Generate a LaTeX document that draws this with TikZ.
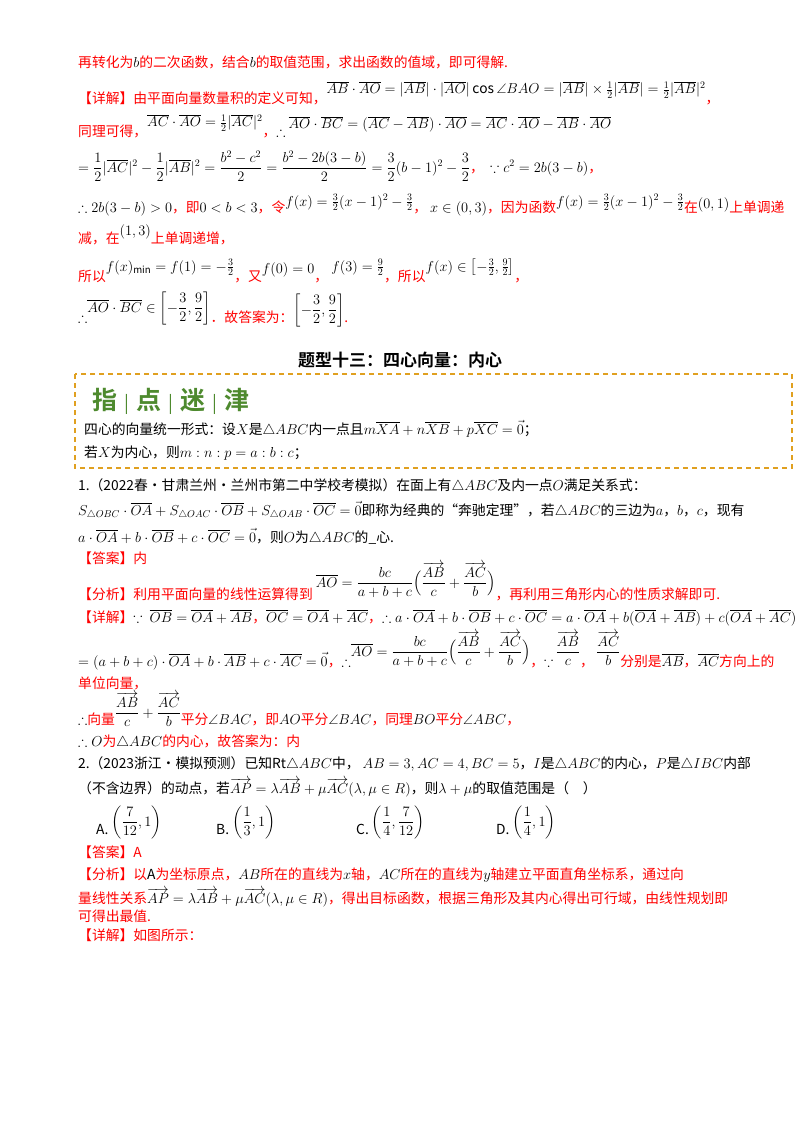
\documentclass[tikz,border=0pt]{standalone}
\usepackage{amsmath,amssymb}
\usepackage{fontspec}
\setmainfont{Noto Sans CJK SC}
\newfontfamily\cjkb{Noto Sans CJK SC Bold}
\definecolor{rd}{HTML}{FF0000}
\definecolor{gn}{HTML}{4E8A2E}
\definecolor{og}{HTML}{E0A020}
\newcommand\R[1]{\textcolor{rd}{#1}}
\newcommand\ol[1]{\overline{#1}}
\newcommand\va[1]{\overrightarrow{#1}}
\tikzset{ln/.style={anchor=base west,inner sep=0pt,font=\fontsize{13.8}{15}\selectfont}}
\begin{document}
\begin{tikzpicture}[x=1pt,y=-1pt]
\useasboundingbox[fill=white] (0,0) rectangle (800,1134);
\node[ln] (l1) at (78,68) {\R{再转化为}$b$\R{的二次函数，结合}$b$\R{的取值范围，求出函数的值域，即可得解.}};
\node[ln] (l2) at (78,104) {\R{【详解】由平面向量数量积的定义可知，}\raisebox{10pt}{$\ol{AB}\cdot\ol{AO}=|\ol{AB}|\cdot|\ol{AO}|\cos\angle BAO=|\ol{AB}|\times\frac12|\ol{AB}|=\frac12|\ol{AB}|^2$}\R{，}};
\node[ln] (l3) at (78,137) {\R{同理可得，}\raisebox{10pt}{$\ol{AC}\cdot\ol{AO}=\frac12|\ol{AC}|^2$}\R{，}$\therefore$ \raisebox{8pt}{$\ol{AO}\cdot\ol{BC}=(\ol{AC}-\ol{AB})\cdot\ol{AO}=\ol{AC}\cdot\ol{AO}-\ol{AB}\cdot\ol{AO}$}};
\node[ln] (l4) at (78,172) {$=\dfrac12|\ol{AC}|^2-\dfrac12|\ol{AB}|^2=\dfrac{b^2-c^2}{2}=\dfrac{b^2-2b(3-b)}{2}=\dfrac32(b-1)^2-\dfrac32$\R{，}\ \ $\because c^2=2b(3-b)$\R{，}};
\node[ln] (l5) at (78,212) {$\therefore 2b(3-b)>0$\R{，即}$0<b<3$\R{，令}\raisebox{6pt}{$f(x)=\frac32(x-1)^2-\frac32$}\R{，}\ $x\in(0,3)$\R{，因为函数}\raisebox{6pt}{$f(x)=\frac32(x-1)^2-\frac32$}\R{在}\raisebox{4pt}{$(0,1)$}\R{上单调递}};
\node[ln] (l6) at (78,243) {\R{减，在}\raisebox{8pt}{$(1,3)$}\R{上单调递增，}};
\node[ln] (l7) at (78,281) {\R{所以}\raisebox{10pt}{$f(x)_{\min}=f(1)=-\frac32$}\R{，又}\raisebox{8pt}{$f(0)=0$}\R{，}\ \raisebox{10pt}{$f(3)=\frac92$}\R{，所以}\raisebox{10pt}{$f(x)\in\left[-\frac32,\frac92\right]$}\R{，}};
\node[ln] (l8) at (78,322) {$\therefore$\raisebox{10pt}{$\ol{AO}\cdot\ol{BC}\in\left[-\dfrac32,\dfrac92\right]$}\R{．故答案为：}\raisebox{8pt}{$\left[-\dfrac32,\dfrac92\right]$}\R{.}};
\node[anchor=base,inner sep=0pt,font=\fontsize{17}{19}\selectfont\cjkb] (title) at (400,366) {题型十三：四心向量：内心};
\draw[og,line width=1.3pt,dash pattern=on 5pt off 4pt] (75,374) rectangle (792,468);
\node[ln,font=\fontsize{25}{28}\selectfont\cjkb,text=gn] (tip) at (92,409) {指\,{\normalfont\fontsize{18}{20}\selectfont\,|\,}\,点\,{\normalfont\fontsize{18}{20}\selectfont\,|\,}\,迷\,{\normalfont\fontsize{18}{20}\selectfont\,|\,}\,津};
\node[ln] (k1) at (84,434) {四心的向量统一形式：设$X$是$\triangle ABC$内一点且$m\ol{XA}+n\ol{XB}+p\ol{XC}=\vec0$；};
\node[ln] (k2) at (84,457) {若$X$为内心，则$m:n:p=a:b:c$；};
\node[ln] (q1) at (78,490) {1.（2022春·甘肃兰州·兰州市第二中学校考模拟）在面上有$\triangle ABC$及内一点$O$满足关系式：};
\node[ln] (q2) at (78,515) {$S_{\triangle OBC}\cdot\ol{OA}+S_{\triangle OAC}\cdot\ol{OB}+S_{\triangle OAB}\cdot\ol{OC}=\vec0$即称为经典的“奔驰定理”，若$\triangle ABC$的三边为$a$，$b$，$c$，现有};
\node[ln] (q3) at (78,542) {$a\cdot\ol{OA}+b\cdot\ol{OB}+c\cdot\ol{OC}=\vec0$，则$O$为$\triangle ABC$的\_心.};
\node[ln] (a1) at (78,563) {\R{【答案】内}};
\node[ln] (f1) at (78,599) {\R{【分析】利用平面向量的线性运算得到}\ \raisebox{12pt}{$\ol{AO}=\dfrac{bc}{a+b+c}\Big(\dfrac{\va{AB}}{c}+\dfrac{\va{AC}}{b}\Big)$}\R{，再利用三角形内心的性质求解即可.}};
\node[ln] (d1) at (78,622) {\R{【详解】}$\because\ \ol{OB}=\ol{OA}+\ol{AB}$\R{，}$\ol{OC}=\ol{OA}+\ol{AC}$\R{，}$\therefore a\cdot\ol{OA}+b\cdot\ol{OB}+c\cdot\ol{OC}=a\cdot\ol{OA}+b(\ol{OA}+\ol{AB})+c(\ol{OA}+\ol{AC})$};
\node[ln] (d2) at (78,666) {$=(a+b+c)\cdot\ol{OA}+b\cdot\ol{AB}+c\cdot\ol{AC}=\vec0$\R{，}$\therefore$\raisebox{10pt}{$\ol{AO}=\dfrac{bc}{a+b+c}\Big(\dfrac{\va{AB}}{c}+\dfrac{\va{AC}}{b}\Big)$}\R{，}$\because$\,\raisebox{10pt}{$\dfrac{\va{AB}}{c}$}\R{，}\,\raisebox{10pt}{$\dfrac{\va{AC}}{b}$}\R{分别是}$\ol{AB}$\R{，}$\ol{AC}$\R{方向上的}};
\node[ln] (d3) at (78,688) {\R{单位向量，}};
\node[ln] (d4) at (78,724) {$\therefore$\R{向量}\raisebox{7pt}{$\dfrac{\va{AB}}{c}+\dfrac{\va{AC}}{b}$}\R{平分}$\angle BAC$\R{，即}$AO$\R{平分}$\angle BAC$\R{，同理}$BO$\R{平分}$\angle ABC$\R{，}};
\node[ln] (d5) at (78,746) {$\therefore O$\R{为}$\triangle ABC$\R{的内心，故答案为：内}};
\node[ln] (p1) at (78,768) {2.（2023浙江·模拟预测）已知$\mathrm{Rt}\triangle ABC$中，\ $AB=3,AC=4,BC=5$，$I$是$\triangle ABC$的内心，$P$是$\triangle IBC$内部};
\node[ln] (p2) at (78,793) {（不含边界）的动点，若$\va{AP}=\lambda\va{AB}+\mu\va{AC}(\lambda,\mu\in R)$，则$\lambda+\mu$的取值范围是（\quad）};
\node[ln] (oA) at (96,834) {A.\ \raisebox{8pt}{$\left(\dfrac7{12},1\right)$}};
\node[ln] (oB) at (216,834) {B.\ \raisebox{8pt}{$\left(\dfrac13,1\right)$}};
\node[ln] (oC) at (356,834) {C.\ \raisebox{8pt}{$\left(\dfrac14,\dfrac7{12}\right)$}};
\node[ln] (oD) at (496,834) {D.\ \raisebox{8pt}{$\left(\dfrac14,1\right)$}};
\node[ln] (a2) at (78,857) {\R{【答案】A}};
\node[ln] (g1) at (78,879) {\R{【分析】以}$\mathrm{A}$\R{为坐标原点，}$AB$\R{所在的直线为}$x$\R{轴，}$AC$\R{所在的直线为}$y$\R{轴建立平面直角坐标系，通过向}};
\node[ln] (g2) at (78,903) {\R{量线性关系}$\va{AP}=\lambda\va{AB}+\mu\va{AC}(\lambda,\mu\in R)$\R{，得出目标函数，根据三角形及其内心得出可行域，由线性规划即}};
\node[ln] (g3) at (78,921) {\R{可得出最值.}};
\node[ln] (g4) at (78,940) {\R{【详解】如图所示：}};
\end{tikzpicture}
\end{document}
